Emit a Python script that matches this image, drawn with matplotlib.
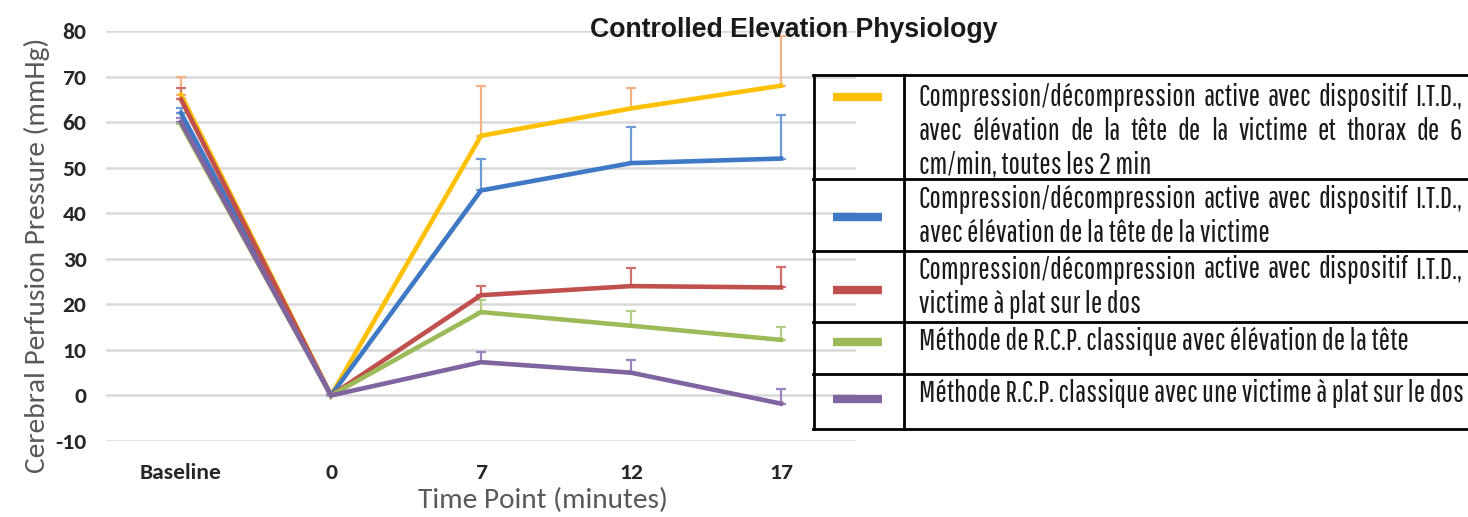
import matplotlib
matplotlib.use("Agg")
import matplotlib.pyplot as plt
import numpy as np
from matplotlib import font_manager as fm
from matplotlib.lines import Line2D

plt.rcParams["axes.unicode_minus"] = False

# ---------------- data ----------------
categories = ["Baseline", "0", "7", "12", "17"]
yticks = [-10, 0, 10, 20, 30, 40, 50, 60, 70, 80]

yellow_vals = [66, 0, 57, 63, 68]
blue_vals = [62, 0, 45, 51, 52]
red_vals = [65, 0, 22, 24, 23.7]
green_vals = [59.5, 0, 18.3, 15.3, 12.2]
purple_vals = [60, 0, 7.3, 5, -1.8]

yellow_err = [4, 0, 11, 4.5, 11]
blue_err = [1, 0, 7, 8, 9.5]
red_err = [2.5, 0, 2, 4, 4.5]
green_err = [0.5, 0, 2.7, 3.2, 2.8]
purple_err = [1, 0, 2.2, 2.8, 3.3]

legend_rows = [
    ["Compression/décompression active avec dispositif I.T.D.,",
     "avec élévation de la tête de la victime et thorax de 6",
     "cm/min, toutes les 2 min"],
    ["Compression/décompression active avec dispositif I.T.D.,",
     "avec élévation de la tête de la victime"],
    ["Compression/décompression active avec dispositif I.T.D.,",
     "victime à plat sur le dos"],
    ["Méthode de R.C.P. classique avec élévation de la tête"],
    ["Méthode R.C.P. classique avec une victime à plat sur le dos"],
]
justified = [[True, True, False], [True, False], [True, False], [False], [False]]

title = "Controlled Elevation Physiology"
ylabel = "Cerebral Perfusion Pressure (mmHg)"
xlabel = "Time Point (minutes)"

# ---------------- style ----------------
line_colors = ["#FFC000", "#3F78C4", "#C0504D", "#9BBB59", "#8064A2"]
err_colors = ["#F4B183", "#6E9BD6", "#D0706D", "#B3CE84", "#9A84BD"]
series_vals = [yellow_vals, blue_vals, red_vals, green_vals, purple_vals]
series_errs = [yellow_err, blue_err, red_err, green_err, purple_err]

avail = {f.name for f in fm.fontManager.ttflist}

def pick(prefs):
    for p in prefs:
        if p in avail:
            return p
    return "DejaVu Sans"

narrow = pick(["Pathway Gothic One", "Saira Extra Condensed", "Saira Condensed",
               "Roboto Condensed", "Barlow Condensed", "IBM Plex Sans Condensed",
               "Liberation Sans Narrow"])
calibri = pick(["Carlito", "Lato", "Open Sans"])
arial = pick(["Liberation Sans", "Arimo", "DejaVu Sans"])

W, H = 1468, 517
fig = plt.figure(figsize=(W / 100, H / 100), dpi=100)
fig.canvas.draw()
renderer = fig.canvas.get_renderer()

def fx(px):
    return px / W

def fy(py):
    return 1 - py / H

def fit_size(s, family, weight, target_px, base=20.0):
    t = fig.text(0, 0, s, fontsize=base, family=family, fontweight=weight)
    w = t.get_window_extent(renderer).width
    t.remove()
    return base * target_px / w

ax = fig.add_axes([fx(106), fy(441), fx(856) - fx(106), fy(31) - fy(441)])
x = np.arange(len(categories))
for vals, errs, c, ec in zip(series_vals, series_errs, line_colors, err_colors):
    v = np.array(vals, dtype=float)
    e = np.array(errs, dtype=float)
    ax.errorbar(x, v, yerr=[np.zeros_like(e), e], fmt="none", ecolor=ec,
                elinewidth=1.6, capsize=3.5, capthick=1.6, zorder=2)
    ax.plot(x, v, color=c, lw=3.3, solid_joinstyle="miter", zorder=3)

ax.set_xlim(-0.5, len(categories) - 0.5)
ax.set_ylim(-10, 80)
ax.set_yticks(yticks)
ax.set_xticks(x)
ax.set_xticklabels(categories)
ax.grid(axis="y", color="#D9D9D9", lw=1.8)
ax.set_axisbelow(True)
for s in ax.spines.values():
    s.set_visible(False)
ax.tick_params(length=0)
tick_fs = fit_size("Baseline", calibri, "bold", 82)
ax.tick_params(axis="x", pad=16)
ax.tick_params(axis="y", pad=14)
for lab in ax.get_xticklabels() + ax.get_yticklabels():
    lab.set_fontfamily(calibri)
    lab.set_fontweight("bold")
    lab.set_fontsize(tick_fs)
    lab.set_color("#262626")

lab_fs = fit_size(xlabel, calibri, "normal", 250)
fig.text(fx(37), fy(255), ylabel, rotation=90, ha="center", va="center",
         fontsize=lab_fs, family=calibri, color="#595959")
fig.text(fx(543), fy(500), xlabel, ha="center", va="center",
         fontsize=lab_fs, family=calibri, color="#595959")
title_fs = fit_size(title, arial, "bold", 408)
fig.text(fx(794), fy(30), title, ha="center", va="center",
         fontsize=title_fs, family=arial, fontweight="bold", color="#1a1a1a")

# ---------------- legend table ----------------
L, C, R = 814, 904, 1470
row_lines = [75, 179, 251, 322, 374, 429]
lw_tab = 2.0
def hline(py, x0, x1):
    fig.add_artist(Line2D([fx(x0), fx(x1)], [fy(py), fy(py)], color="black", lw=lw_tab))
def vline(px, y0, y1):
    fig.add_artist(Line2D([fx(px), fx(px)], [fy(y0), fy(y1)], color="black", lw=lw_tab))
for py in row_lines:
    hline(py, L - 1, R)
vline(L, row_lines[0], row_lines[-1])
vline(C, row_lines[0], row_lines[-1])

swatch_y = [97, 217, 290, 342, 399]
for sy, c in zip(swatch_y, line_colors):
    fig.add_artist(Line2D([fx(833), fx(882)], [fy(sy), fy(sy)], color=c, lw=6,
                          solid_capstyle="butt"))

text_x0, text_x1 = 919, 1462
line_y = [[97, 131, 165], [199, 234], [270, 304], [341], [393]]
fs_leg = fit_size(legend_rows[4][0], narrow, "normal", text_x1 - text_x0)
for lines, ys, js in zip(legend_rows, line_y, justified):
    for ln, py, jf in zip(lines, ys, js):
        if not jf:
            fig.text(fx(text_x0), fy(py), ln, ha="left", va="center",
                     fontsize=fs_leg, family=narrow, color="#1a1a1a")
        else:
            words = ln.split(" ")
            tmp = [fig.text(0, 0, w, fontsize=fs_leg, family=narrow) for w in words]
            widths = [t.get_window_extent(renderer).width for t in tmp]
            for t in tmp:
                t.remove()
            gap = (text_x1 - text_x0 - sum(widths)) / max(len(words) - 1, 1)
            gap = max(gap, 3)
            cx = text_x0
            for w, wd in zip(words, widths):
                fig.text(fx(cx), fy(py), w, ha="left", va="center",
                         fontsize=fs_leg, family=narrow, color="#1a1a1a")
                cx += wd + gap

fig.savefig("out.png", dpi=100)
